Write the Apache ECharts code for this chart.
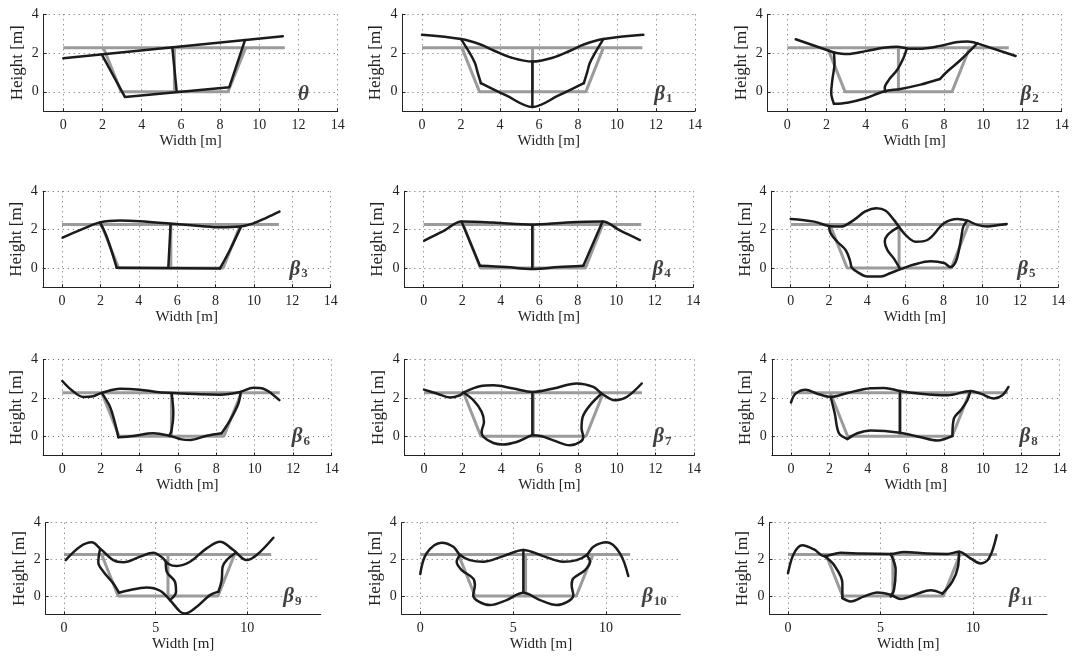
<!DOCTYPE html>
<html>
<head>
<meta charset="utf-8">
<script src="https://cdn.jsdelivr.net/npm/echarts@6/dist/echarts.min.js"></script>
<style>
  html, body { margin: 0; padding: 0; background: #ffffff; }
  #chart { width: 1074px; height: 659px; }
</style>
</head>
<body>
<div id="chart"></div>
<script>
// ---- Undeformed channel section (gray reference) ----
const refTop = [[0, 2.27], [11.3, 2.27]];
const refBed = [[2.05, 2.27], [2.95, 0], [8.4, 0], [9.3, 2.27]];
const refMid = [[5.67, 0], [5.67, 2.27]];

// ---- Tick values ----
const xTicksFine = [0, 2, 4, 6, 8, 10, 12, 14];
const xTicksCoarse = [0, 5, 10];
const yTicks = [0, 2, 4];

// ---- Perturbed sections ----
// theta
const thTop = [[0, 1.73], [11.2, 2.87]];
const thBed = [[1.96, 1.93], [3.15, -0.27], [8.47, 0.24], [9.27, 2.67]];
const thMid = [[5.56, 2.3], [5.78, 0.07]];

// beta 1
const b1Top = [[0, 2.94], [2.0, 2.72], [3.0, 2.44], [3.7, 2.12], [4.6, 1.76], [5.66, 1.56], [6.7, 1.76], [7.6, 2.12], [8.3, 2.44], [9.3, 2.72], [11.35, 2.94]];
const b1BedL = [[2.0, 2.72], [2.46, 1.98], [2.72, 1.47], [2.84, 1.04], [3.02, 0.45]];
const b1BedB = [[3.02, 0.45], [4.34, -0.2], [5.66, -0.78], [6.98, -0.2], [8.3, 0.45]];
const b1BedR = [[8.3, 0.45], [8.48, 1.04], [8.6, 1.47], [8.86, 1.98], [9.3, 2.72]];
const b1Mid = [[5.66, 1.56], [5.66, -0.78]];

// beta 2
const b2TopA = [[0.43, 2.71], [2.38, 2.03]];
const b2TopB = [[2.38, 2.03], [3.06, 1.95], [4.0, 2.1], [4.9, 2.27], [5.6, 2.33], [6.1, 2.24], [6.7, 2.22], [7.8, 2.37], [8.6, 2.56], [9.2, 2.6], [9.69, 2.5]];
const b2TopC = [[9.69, 2.5], [11.65, 1.85]];
const b2BedL = [[2.38, 2.03], [2.41, 1.47], [2.3, 0.63], [2.24, -0.05], [2.38, -0.62]];
const b2BedB = [[2.38, -0.62], [3.06, -0.56], [3.91, -0.36], [4.93, 0.02], [5.78, 0.15], [6.8, 0.37], [7.79, 0.66]];
const b2BedR = [[7.79, 0.66], [8.16, 1.05], [8.84, 1.64], [9.69, 2.5]];
const b2Mid = [[6.09, 2.22], [5.95, 1.8], [5.61, 1.14], [5.19, 0.63], [4.97, 0.2], [5.0, 0.02]];

// beta 3
const b3Top = [[0.03, 1.58], [1.0, 2.0], [1.98, 2.38], [3.02, 2.48], [4.06, 2.44], [5.63, 2.32], [7.19, 2.19], [8.23, 2.12], [9.28, 2.16], [9.97, 2.33], [10.67, 2.63], [11.33, 2.94]];
const b3BedL = [[1.98, 2.38], [2.33, 1.63], [2.85, 0.02]];
const b3BedB = [[2.85, 0.02], [8.23, -0.02]];
const b3BedR = [[8.23, -0.02], [8.75, 0.94], [9.31, 2.12]];
const b3Mid = [[5.66, 2.3], [5.54, 0.03]];

// beta 4
const b4Top = [[0.03, 1.43], [1.02, 1.92], [1.97, 2.42], [3.6, 2.37], [5.64, 2.26], [7.42, 2.37], [9.29, 2.42], [10.19, 1.96], [11.23, 1.46]];
const b4BedL = [[1.97, 2.42], [2.92, 0.12]];
const b4BedB = [[2.92, 0.12], [4.3, 0.05], [5.64, -0.05], [7.0, 0.05], [8.29, 0.12]];
const b4BedR = [[8.29, 0.12], [9.29, 2.42]];
const b4Mid = [[5.64, 2.26], [5.64, -0.05]];

// beta 5
const b5Top = [[0, 2.56], [1.22, 2.42], [2.0, 2.19], [2.62, 2.16], [3.31, 2.51], [3.9, 2.95], [4.5, 3.12], [4.95, 3.0], [5.4, 2.51], [5.93, 1.81], [6.54, 1.37], [7.15, 1.46], [8.02, 2.33], [8.72, 2.56], [9.24, 2.47], [9.76, 2.25], [10.29, 2.16], [10.81, 2.23], [11.3, 2.3]];
const b5Bed = [[2.0, 2.19], [2.09, 1.81], [2.44, 1.37], [2.88, 0.93], [3.1, 0.4], [3.2, 0.02], [3.49, -0.21], [4.01, -0.44], [4.71, -0.44], [5.23, -0.26], [5.72, -0.07], [6.45, 0.18], [7.32, 0.35], [8.02, 0.26], [8.37, 0.05], [8.63, 0.32], [8.8, 0.93], [8.93, 1.63], [9.03, 2.16], [9.24, 2.47]];
const b5Mid = [[5.61, 2.12], [5.06, 1.72], [4.92, 1.37], [5.06, 0.93], [5.4, 0.49], [5.72, -0.05]];

// beta 6
const b6Top = [[0, 2.88], [0.49, 2.4], [1.09, 2.05], [1.61, 2.09], [2.05, 2.26], [3.0, 2.48], [4.04, 2.43], [4.9, 2.31], [5.68, 2.26], [7.16, 2.19], [8.2, 2.17], [9.24, 2.31], [9.93, 2.53], [10.45, 2.48], [10.88, 2.22], [11.28, 1.88]];
const b6BedL = [[2.05, 2.26], [2.48, 1.53], [2.74, 0.67], [2.91, -0.05]];
const b6BedB = [[2.91, -0.05], [3.69, 0.02], [4.73, 0.16], [5.6, 0.02], [6.2, -0.16], [6.64, -0.19], [7.5, 0.03], [8.28, 0.16]];
const b6BedR = [[8.28, 0.16], [8.72, 0.84], [9.15, 1.71], [9.27, 2.31]];
const b6Mid = [[5.68, 2.26], [5.77, 1.19], [5.68, 0.33], [5.56, 0.02]];

// beta 7
const b7Top = [[0, 2.43], [0.66, 2.23], [1.35, 2.02], [1.87, 2.14], [2.04, 2.28], [2.9, 2.61], [3.6, 2.66], [4.63, 2.49], [5.62, 2.31], [6.71, 2.49], [7.92, 2.75], [8.78, 2.57], [9.21, 2.23], [9.9, 1.88], [10.51, 2.05], [11.29, 2.75]];
const b7Bed = [[2.04, 2.28], [2.56, 1.88], [2.99, 1.27], [3.11, 0.75], [2.99, 0.23], [3.08, -0.03], [3.6, -0.35], [4.11, -0.43], [4.8, -0.3], [5.32, -0.07], [5.62, 0.05], [6.1, 0.0], [6.71, -0.21], [7.57, -0.47], [8.09, -0.3], [8.26, -0.03], [8.17, 0.4], [8.23, 1.01], [8.61, 1.62], [9.21, 2.23]];
const b7Mid = [[5.62, 2.31], [5.62, 0.05]];

// beta 8
const b8Top = [[0, 1.76], [0.24, 2.22], [0.76, 2.43], [1.37, 2.22], [2.07, 2.05], [2.94, 2.26], [4.15, 2.5], [4.85, 2.52], [5.68, 2.36], [6.76, 2.22], [8.15, 2.14], [9.36, 2.36], [9.88, 2.22], [10.58, 1.97], [11.01, 2.14], [11.33, 2.57]];
const b8BedL = [[2.07, 2.05], [2.28, 1.19], [2.5, 0.16], [2.94, -0.14]];
const b8BedB = [[2.94, -0.14], [3.46, 0.16], [4.15, 0.3], [5.68, 0.19], [6.76, -0.05], [7.63, -0.22], [8.41, 0.02]];
const b8BedR = [[8.41, 0.02], [8.49, 0.93], [8.84, 1.36], [9.19, 1.88], [9.33, 2.31]];
const b8Mid = [[5.68, 2.36], [5.68, 0.19]];

// beta 9
const b9Top = [[0.09, 1.96], [0.87, 2.69], [1.51, 2.93], [1.96, 2.6], [2.69, 1.96], [3.24, 1.85], [4.15, 2.15], [4.87, 2.36], [5.35, 2.1], [5.7, 1.75], [6.15, 1.64], [6.87, 1.87], [7.78, 2.6], [8.51, 2.96], [9.24, 2.51], [9.96, 1.96], [10.51, 2.24], [11.42, 3.18]];
const b9BedL = [[1.96, 2.55], [1.87, 1.85], [2.15, 1.33], [2.69, 0.69], [3.0, 0.18]];
const b9BedB = [[3.0, 0.18], [3.42, 0.29], [4.51, 0.47], [5.24, 0.29], [5.78, -0.22], [6.33, -0.85], [6.6, -0.95], [7.24, -0.58], [7.96, 0.05], [8.42, 0.24]];
const b9BedR = [[8.42, 0.24], [8.6, 0.87], [8.65, 1.6], [8.87, 1.96], [9.33, 2.33]];
const b9Mid = [[5.55, 1.84], [5.6, 1.33], [6.05, 0.78], [6.11, 0.24], [5.78, -0.22]];

// beta 10
const b10Top = [[0, 1.2], [0.34, 2.33], [1.15, 2.91], [1.78, 2.69], [2.14, 2.24], [2.67, 1.96], [3.39, 1.87], [4.47, 2.18], [5.55, 2.51], [6.62, 2.18], [7.7, 1.87], [8.42, 1.96], [8.96, 2.24], [9.32, 2.69], [10.04, 2.93], [10.75, 2.33], [11.2, 1.09]];
const b10Bed = [[2.14, 2.24], [1.96, 1.87], [2.23, 1.42], [2.85, 0.96], [2.94, 0.6], [2.85, 0.05], [3.75, -0.49], [4.65, -0.22], [5.55, 0.18], [6.45, -0.22], [7.34, -0.49], [8.24, 0.05], [8.15, 0.6], [8.24, 0.96], [8.87, 1.42], [9.14, 1.87], [8.96, 2.24]];
const b10Mid = [[5.55, 2.51], [5.55, 0.18]];

// beta 11
const b11Top = [[0, 1.24], [0.32, 2.32], [0.77, 2.77], [1.41, 2.54], [1.95, 2.18], [2.85, 2.36], [3.93, 2.32], [5.55, 2.3], [6.27, 2.4], [7.53, 2.32], [8.61, 2.3], [9.24, 2.41], [9.87, 2.05], [10.41, 1.78], [10.86, 2.05], [11.28, 3.32]];
const b11BedL = [[1.95, 2.18], [2.49, 1.69], [2.94, 0.7], [2.94, -0.11]];
const b11BedB = [[2.94, -0.11], [3.39, -0.29], [4.11, -0.02], [4.83, 0.2], [5.55, 0.07], [6.09, -0.16], [6.99, 0.13], [7.71, 0.31], [8.34, 0.13]];
const b11BedR = [[8.34, 0.13], [8.88, 0.79], [9.19, 1.6], [9.24, 2.41]];
const b11Mid = [[5.55, 2.3], [5.82, 1.42], [5.73, 0.34], [5.55, -0.02]];

// Panel tags and label anchors
const tagSymbols = ['θ', 'β', 'β', 'β', 'β', 'β', 'β', 'β', 'β', 'β', 'β', 'β'];
const tagSubs = ['', '1', '2', '3', '4', '5', '6', '7', '8', '9', '10', '11'];
const tagAnchors = [[12.25, -0.15], [12.38, -0.12], [12.36, -0.12], [12.33, -0.06], [12.35, -0.06], [12.33, -0.06],
                    [12.4, -0.02], [12.36, -0.02], [12.38, -0.02], [12.45, -0.05], [12.6, -0.05], [12.6, -0.05]];

const strokeSets = [
  { lines: [thTop, thBed, thMid], smooth: 0 },
  { lines: [b1Top, b1BedL, b1BedB, b1BedR, b1Mid], smooth: 0.35 },
  { lines: [b2TopA, b2TopB, b2TopC, b2BedL, b2BedB, b2BedR, b2Mid], smooth: 0.35 },
  { lines: [b3Top, b3BedL, b3BedB, b3BedR, b3Mid], smooth: 0.35 },
  { lines: [b4Top, b4BedL, b4BedB, b4BedR, b4Mid], smooth: 0.35 },
  { lines: [b5Top, b5Bed, b5Mid], smooth: 0.35 },
  { lines: [b6Top, b6BedL, b6BedB, b6BedR, b6Mid], smooth: 0.35 },
  { lines: [b7Top, b7Bed, b7Mid], smooth: 0.35 },
  { lines: [b8Top, b8BedL, b8BedB, b8BedR, b8Mid], smooth: 0.35 },
  { lines: [b9Top, b9BedL, b9BedB, b9BedR, b9Mid], smooth: 0.35 },
  { lines: [b10Top, b10Bed, b10Mid], smooth: 0.35 },
  { lines: [b11Top, b11BedL, b11BedB, b11BedR, b11Mid], smooth: 0.35 }
];

// ---- Layout of the 4x3 panel grid (pixels) ----
const rowTop = [14.3, 191.3, 359.5, 522.7];
const rowBottom = [111.2, 287.2, 455.5, 614.4];
const colEdges = [
  [[43.7, 337.7], [402.5, 695], [767.7, 1061.7]],
  [[42.8, 330.7], [404.4, 693.3], [771.6, 1058.3]],
  [[43.1, 331.7], [404.7, 694], [771.8, 1059.7]],
  [[45.7, 320.7], [401.7, 680.3], [769.5, 1047]]
];

const SERIF = "'Liberation Serif', 'DejaVu Serif', serif";
const INK = '#1b1b1b';
const GRAY = '#9b9b9b';

const grids = [], xAxes = [], yAxes = [], series = [];

for (let p = 0; p < 12; p++) {
  const r = Math.floor(p / 3), c = p % 3;
  const [l, rt] = colEdges[r][c];
  grids.push({ left: l, top: rowTop[r], width: rt - l, height: rowBottom[r] - rowTop[r] });

  const xt = r === 3 ? xTicksCoarse : xTicksFine;
  xAxes.push({
    type: 'value', gridIndex: p, min: -1, max: 14,
    name: 'Width [m]', nameLocation: 'middle', nameGap: 22,
    nameTextStyle: { fontFamily: SERIF, fontSize: 15, color: '#222' },
    axisLine: { onZero: false, lineStyle: { color: '#222', width: 1 } },
    axisTick: { inside: true, length: 3, customValues: xt, lineStyle: { color: '#222' } },
    axisLabel: { customValues: xt, margin: 7, fontFamily: SERIF, fontSize: 14, color: '#222' },
    splitLine: { show: true, lineStyle: { color: '#666', width: 1, type: [1, 4] } }
  });
  yAxes.push({
    type: 'value', gridIndex: p, min: -1, max: 4,
    name: 'Height [m]', nameLocation: 'middle', nameGap: 18, nameRotate: 90,
    nameTextStyle: { fontFamily: SERIF, fontSize: 17, color: '#222' },
    axisLine: { show: true, onZero: false, lineStyle: { color: '#222', width: 1 } },
    axisTick: { show: true, inside: true, length: 3, customValues: yTicks, lineStyle: { color: '#222' } },
    axisLabel: { customValues: yTicks, margin: 5, fontFamily: SERIF, fontSize: 14, color: '#222' },
    splitLine: { show: true, lineStyle: { color: '#666', width: 1, type: [1, 4] } }
  });

  // gray reference section
  [refTop, refBed, refMid].forEach(d => series.push({
    type: 'line', xAxisIndex: p, yAxisIndex: p, data: d, symbol: 'none', silent: true,
    z: 2, lineStyle: { color: GRAY, width: 3 }, clip: false
  }));

  // black perturbed section
  const set = strokeSets[p];
  set.lines.forEach(d => series.push({
    type: 'line', xAxisIndex: p, yAxisIndex: p, data: d, symbol: 'none', silent: true,
    smooth: set.smooth, z: 3, lineStyle: { color: INK, width: 2.5, cap: 'round', join: 'round' }, clip: false
  }));

  // panel tag
  const sub = tagSubs[p];
  series.push({
    type: 'scatter', xAxisIndex: p, yAxisIndex: p, data: [tagAnchors[p]],
    symbolSize: 0, silent: true, z: 5,
    label: {
      show: true, position: 'inside',
      formatter: sub ? '{g|' + tagSymbols[p] + '}{s|' + sub + '}' : '{g|' + tagSymbols[p] + '}',
      rich: {
        g: { fontFamily: SERIF, fontStyle: 'italic', fontWeight: 'bold', fontSize: 21, color: '#111', lineHeight: 22, verticalAlign: 'middle' },
        s: { fontFamily: SERIF, fontWeight: 'bold', fontSize: 13, color: '#111', lineHeight: 22, verticalAlign: 'bottom', padding: [6, 0, 0, 1] }
      }
    }
  });
}

const chart = echarts.init(document.getElementById('chart'), null, { renderer: 'canvas' });
chart.setOption({
  animation: false,
  backgroundColor: '#ffffff',
  grid: grids,
  xAxis: xAxes,
  yAxis: yAxes,
  series: series
});
</script>
</body>
</html>
